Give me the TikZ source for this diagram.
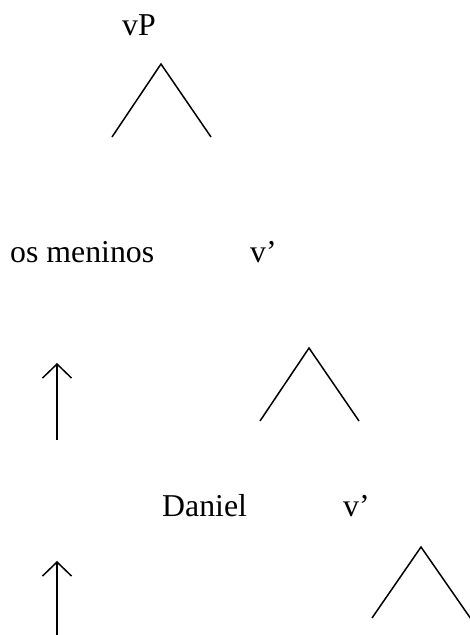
\documentclass[tikz,border=0pt]{standalone}
\usepackage{fontspec}
\setmainfont{Liberation Serif}
\usetikzlibrary{arrows.meta}
\tikzset{
    label/.style={anchor=base west, inner sep=0pt, font=\fontsize{31.8}{36}\selectfont},
    branch/.style={line width=1.5pt},
    move/.style={line width=1.5pt, -{Straight Barb[length=14pt, width=29pt, line width=1.5pt]}}
}
\begin{document}
\begin{tikzpicture}[x=1pt, y=1pt]
    \useasboundingbox (0,0) rectangle (470,635);

    % labels
    \node[label] (vP) at (122,599) {vP};
    \node[label] (meninos) at (10,372) {os meninos};
    \node[label] (vbar1) at (250,372) {v’};
    \node[label] (daniel) at (162,118) {Daniel};
    \node[label] (vbar2) at (343,118) {v’};

    % branches
    \coordinate (T1) at (161,571);
    \coordinate (T1L) at (112,498);
    \coordinate (T1R) at (211,498);
    \draw[branch] (T1L) -- (T1) -- (T1R);

    \coordinate (T2) at (309,287);
    \coordinate (T2L) at (260,214);
    \coordinate (T2R) at (359,214);
    \draw[branch] (T2L) -- (T2) -- (T2R);

    \coordinate (T3) at (421,88);
    \coordinate (T3L) at (372,17);
    \coordinate (T3R) at (471,16);
    \draw[branch] (T3L) -- (T3) -- (T3R);

    % movement arrows
    \coordinate (A1) at (57,195);
    \coordinate (A1tip) at (57,272);
    \draw[move] (A1) -- (A1tip);

    \coordinate (A2) at (57,-2);
    \coordinate (A2tip) at (57,74);
    \draw[move] (A2) -- (A2tip);
\end{tikzpicture}
\end{document}
